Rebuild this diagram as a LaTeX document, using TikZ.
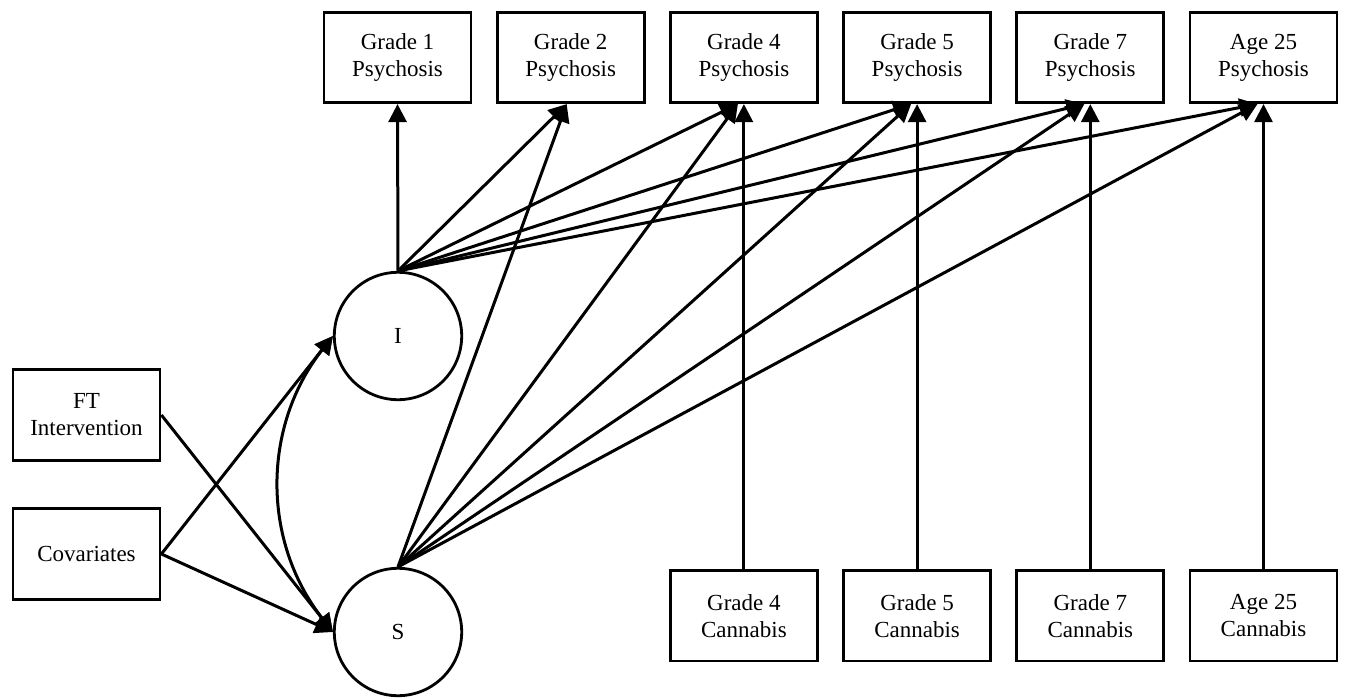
\documentclass[tikz,border=0pt]{standalone}
\usepackage{fontspec}
\setmainfont{Liberation Serif}
\usetikzlibrary{positioning,arrows.meta}

\begin{document}
\begin{tikzpicture}[x=0.5pt,y=0.5pt,
    box/.style={draw,line width=1.4pt,minimum width=73.5pt,minimum height=45.2pt,inner sep=1pt,align=center,font=\fontsize{11.5}{13.5}\selectfont},
    latent/.style={draw,circle,line width=1.4pt,minimum size=63.7pt,inner sep=0pt,font=\fontsize{11.5}{13.5}\selectfont},
    arr/.style={line width=1.5pt,-{Triangle[length=9pt,width=9pt]}},
    dbl/.style={line width=1.5pt,{Triangle[length=9pt,width=9pt]}-{Triangle[length=9pt,width=9pt]}}]
      \useasboundingbox (0,0) rectangle (1346,698);
      % outcomes
      \node[box](psy1) at (397.5,640.5){Grade 1\\Psychosis};
      \node[box,right=11.7pt of psy1](psy2){Grade 2\\Psychosis};
      \node[box,right=11.7pt of psy2](psy4){Grade 4\\Psychosis};
      \node[box,right=11.7pt of psy4](psy5){Grade 5\\Psychosis};
      \node[box,right=11.7pt of psy5](psy7){Grade 7\\Psychosis};
      \node[box,right=11.7pt of psy7](psy25){Age 25\\Psychosis};
      % cannabis use
      \node[box,below=232.5pt of psy4](can4){Grade 4\\Cannabis};
      \node[box,right=11.7pt of can4](can5){Grade 5\\Cannabis};
      \node[box,right=11.7pt of can5](can7){Grade 7\\Cannabis};
      \node[box,right=11.7pt of can7](can25){Age 25\\Cannabis};
      % growth factors
      \node[latent](I) at (398,362){I};
      \node[latent](S) at (398,66){S};
      \node[box](FT) at (86.5,283){FT\\Intervention};
      \node[box](cov) at (86.5,144){Covariates};

      \draw[arr] (cov.east) -- (I.west);
      \draw[arr] (cov.east) -- (S.west);
      \draw[arr] (FT.east) -- (S.west);
      \draw[dbl] (I.west) to[bend right=38] (S.west);

      \draw[arr] (I.north) -- (psy1.south);
      \draw[arr] (I.north) -- ([xshift=-2pt]psy2.south);
      \draw[arr] (I.north) -- ([xshift=-3pt]psy4.south);
      \draw[arr] (I.north) -- ([xshift=-3pt]psy5.south);
      \draw[arr] (I.north) -- ([xshift=-3pt]psy7.south);
      \draw[arr] (I.north) -- ([xshift=-3pt]psy25.south);

      \draw[arr] (S.north) -- ([xshift=-2pt]psy2.south);
      \draw[arr] (S.north) -- ([xshift=-3pt]psy4.south);
      \draw[arr] (S.north) -- ([xshift=-3pt]psy5.south);
      \draw[arr] (S.north) -- ([xshift=-3pt]psy7.south);
      \draw[arr] (S.north) -- ([xshift=-3pt]psy25.south);

      \draw[arr] (can4) -- (psy4);
      \draw[arr] (can5) -- (psy5);
      \draw[arr] (can7) -- (psy7);
      \draw[arr] (can25) -- (psy25);
\end{tikzpicture}
\end{document}
